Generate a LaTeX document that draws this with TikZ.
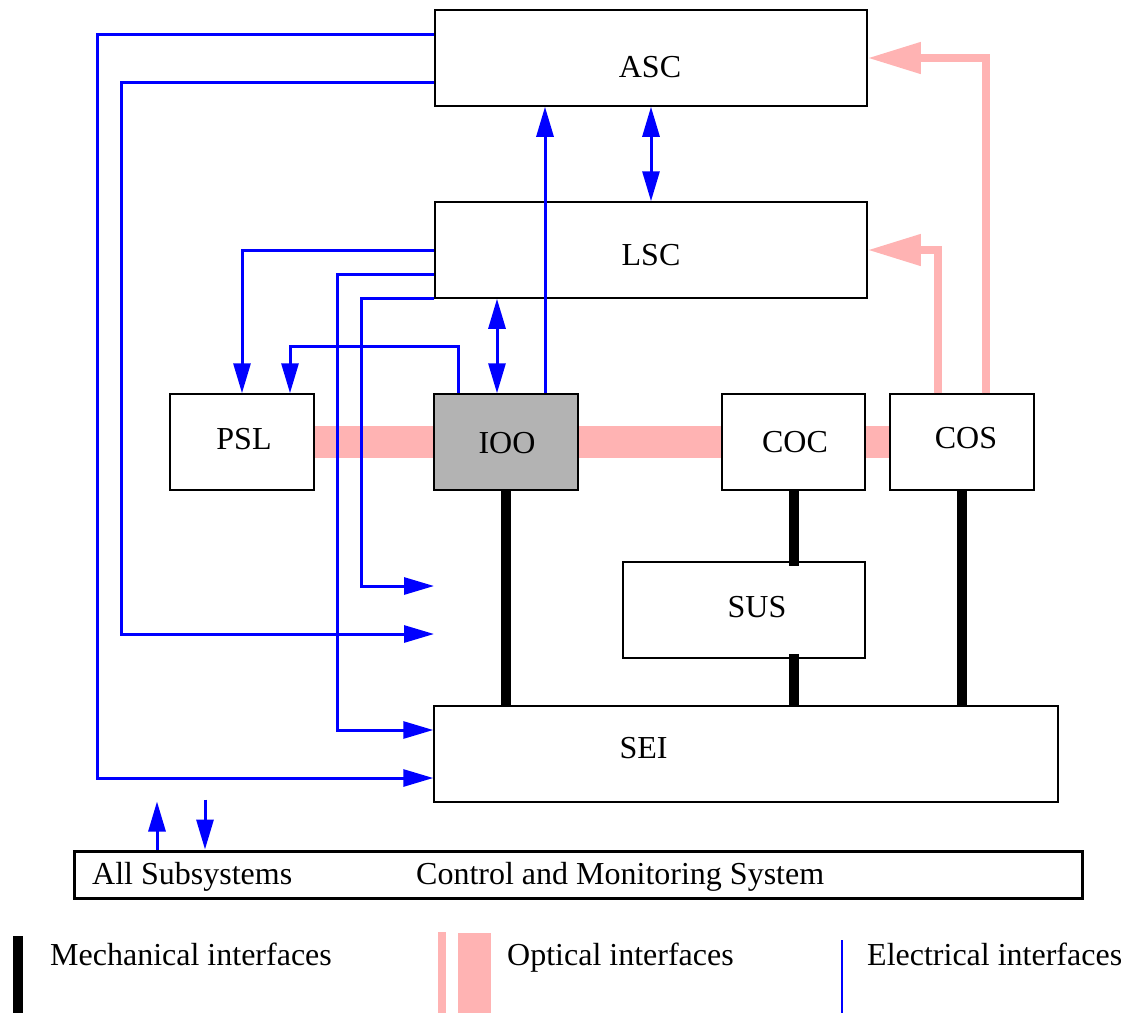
\documentclass[tikz,border=0pt]{standalone}
\usepackage{fontspec}
\setmainfont{Liberation Serif}
\usetikzlibrary{arrows.meta}
\definecolor{optpink}{RGB}{255,179,179}
\definecolor{iogray}{RGB}{179,179,179}
\definecolor{elecblue}{RGB}{0,0,255}
\pgfdeclarelayer{background}
\pgfsetlayers{background,main}
\begin{document}
\begin{tikzpicture}[x=1pt,y=-1pt,
  box/.style={draw, line width=1.5pt, fill=white, inner sep=0pt},
  lbl/.style={inner sep=0pt, anchor=base, font=\fontsize{32}{38}\selectfont},
  elec/.style={draw=elecblue, line width=3pt, -{Triangle[length=30pt,width=17pt]}},
  elecboth/.style={draw=elecblue, line width=3pt, {Triangle[length=30pt,width=17pt]}-{Triangle[length=30pt,width=17pt]}},
  opt/.style={draw=optpink, line width=7.5pt, -{Triangle[length=53pt,width=30pt]}},
  optband/.style={draw=optpink, line width=32pt},
  mech/.style={draw=black, line width=10pt}]
\useasboundingbox (0,0) rectangle (1127,1013);

% boxes
\node[box, minimum width=432pt, minimum height=96pt] (asc) at (651,58) {};
\node[box, minimum width=432pt, minimum height=96pt] (lsc) at (651,250) {};
\node[box, minimum width=144pt, minimum height=96pt] (psl) at (242,442) {};
\node[box, fill=iogray, minimum width=144pt, minimum height=96pt] (ioo) at (506,442) {};
\node[box, minimum width=143pt, minimum height=96pt] (coc) at (793.5,442) {};
\node[box, minimum width=144pt, minimum height=96pt] (cos) at (962,442) {};
\node[box, minimum width=242pt, minimum height=96pt] (sus) at (744,610) {};
\node[box, minimum width=624pt, minimum height=96pt] (sei) at (746,754) {};
\node[box, line width=3pt, minimum width=1008pt, minimum height=47pt] (cms) at (578,874.5) {};

% labels
\node[lbl] (asct) at (650,77) {ASC};
\node[lbl] (lsct) at (651,265) {LSC};
\node[lbl] (pslt) at (244,449) {PSL};
\node[lbl] (ioot) at (507,453) {IOO};
\node[lbl] (coct) at (795,452) {COC};
\node[lbl] (cost) at (966,448) {COS};
\node[lbl] (sust) at (757,617) {SUS};
\node[lbl] (seit) at (643.5,758) {SEI};
\node[lbl, anchor=base west] (cmsa) at (92,884) {All Subsystems};
\node[lbl, anchor=base west] (cmsb) at (416,884) {Control and Monitoring System};

% optical band (behind boxes)
\begin{pgfonlayer}{background}
\draw[optband] (psl.east) -- (cos.west);
\end{pgfonlayer}

% optical arrows
\draw[opt] ([xshift=24pt]cos.north) |- (asc.east);
\draw[opt] ([xshift=-24pt]cos.north) |- (lsc.east);

% free ends
\coordinate (f1) at (434,586);
\coordinate (f2) at (434,634);

% electrical
\draw[elec] ([yshift=24pt]asc.west) -- ++(-337,0) |- ([yshift=-24pt]sei.west);
\draw[elec] ([yshift=-24pt]asc.west) -- ++(-313,0) |- (f2);
\draw[elec] (lsc.west) -| (psl.north);
\draw[elec] ([yshift=-24pt]lsc.west) -- ++(-97,0) |- ([yshift=24pt]sei.west);
\draw[elec] (lsc.south west) -- ++(-73,0) |- (f1);
\draw[elec] ([xshift=-48pt]ioo.north) -- ++(0,-47) -| ([xshift=48pt]psl.north);
\coordinate (p7) at ([xshift=-9pt]ioo.north);
\draw[elecboth] (p7) -- (p7 |- lsc.south);
\coordinate (p8) at ([xshift=39pt]ioo.north);
\draw[elec] (p8) -- (p8 |- asc.south);
\draw[elecboth] (asc.south) -- (lsc.north);
\coordinate (q1) at ([xshift=-421pt]cms.north);
\draw[elec] (q1) -- ([yshift=48pt]q1);
\coordinate (q2) at ([xshift=-373pt]cms.north);
\draw[elec] ([yshift=50pt]q2) -- (q2);

% mechanical
\draw[mech] (ioo.south) -- (ioo.south |- sei.north);
\coordinate (m1) at (coc.south |- sus.north);
\draw[mech] (coc.south) -- ([yshift=-5pt]m1);
\coordinate (m2) at (coc.south |- sus.south);
\draw[mech] ([yshift=5pt]m2) -- (m2 |- sei.north);
\draw[mech] (cos.south) -- (cos.south |- sei.north);

% legend
\draw[line width=10pt] (17.7,936) -- (17.7,1013);
\draw[optpink, line width=8pt] (442,932) -- (442,1013);
\draw[optpink, line width=33pt] (474.5,933) -- (474.5,1013);
\draw[elecblue, line width=2pt] (842,940) -- (842,1013);
\node[lbl, anchor=base west] (legm) at (50,965) {Mechanical interfaces};
\node[lbl, anchor=base west] (lego) at (507,965) {Optical interfaces};
\node[lbl, anchor=base west] (lege) at (867,965) {Electrical interfaces};
\end{tikzpicture}
\end{document}
